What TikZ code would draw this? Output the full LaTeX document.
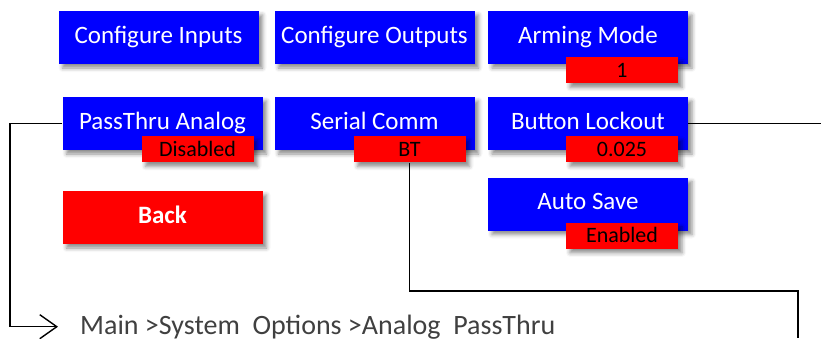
\documentclass[tikz,border=0pt]{standalone}
\usepackage{fontspec}
\setmainfont{Carlito}
\usetikzlibrary{arrows.meta}
\usetikzlibrary{shadows.blur}
\definecolor{menublue}{RGB}{0,0,255}
\definecolor{menured}{RGB}{255,0,0}
\definecolor{crumbgray}{RGB}{64,64,64}

\tikzset{
  menushadow/.style={blur shadow={shadow xshift=4pt, shadow yshift=-4pt, shadow blur radius=4pt, shadow opacity=45}},
  menu/.style={menushadow, fill=menublue, text=white, minimum width=200pt, minimum height=53pt, inner sep=0pt,
    font=\fontsize{25}{30}\selectfont, text height=17pt, text depth=6pt},
  valtag/.style={menushadow, fill=menured, text=black, minimum width=112pt, minimum height=26pt, inner sep=0pt,
    font=\fontsize{22}{26}\selectfont, text height=15pt, text depth=1pt},
  link/.style={line width=1.4pt, black}
}

\begin{document}
\begin{tikzpicture}[x=1pt, y=-1pt]
\useasboundingbox (0,0) rectangle (821,338);

%menu buttons
\node[menu] (cfgin) at (158.5,37.5) {Configure Inputs};
\node[menu] (cfgout) at (374.5,37.5) {Configure Outputs};
\node[menu] (arming) at (588,37.5) {Arming Mode};
\node[menu] (pass) at (162.5,123.5) {PassThru Analog};
\node[menu] (serial) at (374.5,123.5) {Serial Comm};
\node[menu] (lock) at (588,123.5) {Button Lockout};
\node[menu] (autosave) at (588,204) {Auto Save};
\node[menu, fill=menured, font=\fontsize{25}{30}\selectfont\bfseries] (back) at (162.5,217.5) {Back};

%values
\node[valtag, anchor=north east] (armval) at ([shift={(-10,-7)}]arming.south east) {1};
\node[valtag, anchor=north east] (passval) at ([shift={(-9,-14)}]pass.south east) {Disabled};
\node[valtag, anchor=north east] (btval) at ([shift={(-9,-14)}]serial.south east) {BT};
\node[valtag, anchor=north east] (lockval) at ([shift={(-10,-14)}]lock.south east) {0.025};
\node[valtag, anchor=north east] (saveval) at ([shift={(-10,-8)}]autosave.south east) {Enabled};

%path text
\node[anchor=base west, inner sep=0pt, text=crumbgray, font=\fontsize{28}{34}\selectfont] (crumb) at (80,334)
  {Main >System\ \ Options >Analog\ \ PassThru};

%links
\coordinate (exitR) at (821,123.5);
\coordinate (cornerR) at (798,291);
\coordinate (exitB) at (798,338);
\draw[link, -{Straight Barb[length=17pt, width=24pt]}] (pass.west) -| ([xshift=-70pt]crumb.west) -- ([xshift=-22pt]crumb.west);
\draw[link] (lock.east) -- (exitR);
\draw[link] (btval.south) |- (cornerR) -- (exitB);
\end{tikzpicture}
\end{document}
